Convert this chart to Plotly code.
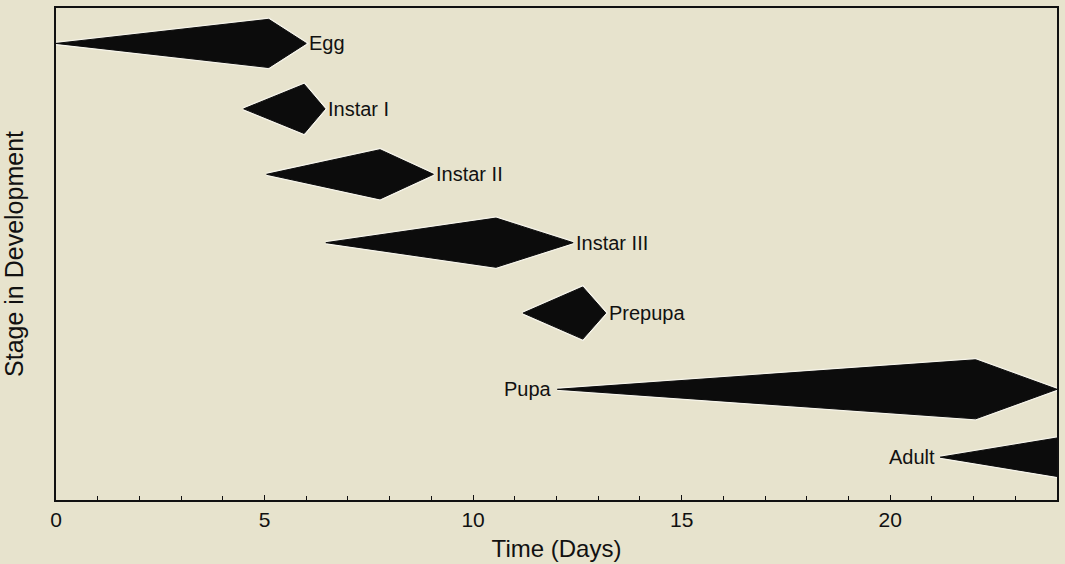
import plotly.graph_objects as go

# ---- data ----
stages = ["Egg", "Instar I", "Instar II", "Instar III", "Prepupa", "Pupa", "Adult"]
start_day = [0.0, 4.5, 5.05, 6.47, 11.2, 12.02, 21.2]
peak_day = [5.1, 5.95, 7.77, 10.55, 12.63, 22.05, 24.0]
end_day = [6.0, 6.45, 9.05, 12.4, 13.18, 24.0, 24.0]
stage_pos = [9.28, 7.95, 6.62, 5.23, 3.80, 2.25, 0.87]
half_width = [0.49, 0.50, 0.50, 0.50, 0.53, 0.60, 0.39]
label_side = ["right", "right", "right", "right", "right", "left", "left"]
x_tick_vals = [0, 5, 10, 15, 20]
x_tick_text = ["0", "5", "10", "15", "20"]

BG = "#e7e3cd"
FONT = "Liberation Sans, Arial, Helvetica, sans-serif"

fig = go.Figure()

# light halo underneath each shape (scan look)
for name, s, p, e, y, h in zip(stages, start_day, peak_day, end_day, stage_pos, half_width):
    fig.add_trace(go.Scatter(
        x=[s, p, e, p, s], y=[y, y + h, y, y - h, y],
        mode="lines", line=dict(color="#f6f4ea", width=3.5),
        showlegend=False, hoverinfo="skip",
    ))

for name, s, p, e, y, h in zip(stages, start_day, peak_day, end_day, stage_pos, half_width):
    fig.add_trace(go.Scatter(
        x=[s, p, e, p, s],
        y=[y, y + h, y, y - h, y],
        mode="lines",
        fill="toself",
        fillcolor="#0c0c0c",
        line=dict(color="#0c0c0c", width=1),
        name=name,
        showlegend=False,
        hoverinfo="name",
    ))

for name, s, e, y, side in zip(stages, start_day, end_day, stage_pos, label_side):
    if side == "right":
        fig.add_annotation(x=e, y=y, text=name, showarrow=False, xanchor="left",
                           yanchor="middle", xshift=1, font=dict(size=20, color="#111", family=FONT))
    else:
        fig.add_annotation(x=s, y=y, text=name, showarrow=False, xanchor="right",
                           yanchor="middle", xshift=-3, font=dict(size=20, color="#111", family=FONT))

fig.update_layout(
    width=1065, height=564,
    paper_bgcolor=BG, plot_bgcolor=BG,
    margin=dict(l=56, r=7, t=6, b=61),
    font=dict(family=FONT, color="#111"),
)

fig.update_xaxes(
    range=[0, 24],
    tickvals=x_tick_vals, ticktext=x_tick_text,
    ticks="inside", ticklen=5, tickwidth=1.2, tickcolor="#111",
    minor=dict(dtick=1, ticks="inside", ticklen=4, tickwidth=1.2, tickcolor="#111"),
    showgrid=False, zeroline=False,
    showline=True, linecolor="#111", linewidth=2, mirror=True,
    tickfont=dict(size=21, family=FONT, color="#111"),
    title=dict(text="Time (Days)", font=dict(size=24, family=FONT, color="#111"), standoff=10),
)

fig.update_yaxes(
    range=[0, 10],
    showticklabels=False, ticks="",
    showgrid=False, zeroline=False,
    showline=True, linecolor="#111", linewidth=2, mirror=True,
    title=dict(text="Stage in Development", font=dict(size=25, family=FONT, color="#111"), standoff=28),
)

fig.write_html(
    "out.html",
    config={"displayModeBar": False},
    post_script="document.body.style.margin='0';document.body.style.background='%s';" % BG,
)
